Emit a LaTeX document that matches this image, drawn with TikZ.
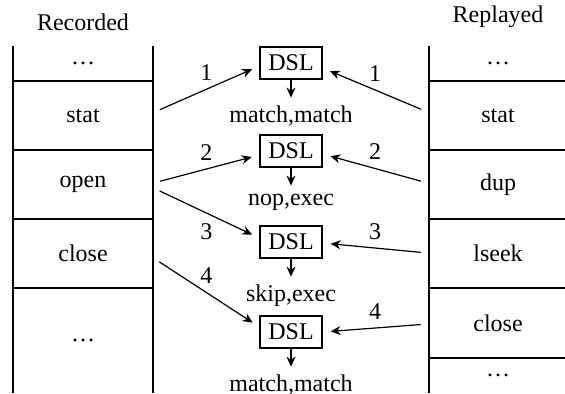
\documentclass[tikz,border=0pt,12pt]{standalone}
\usepackage{fontspec}
\setmainfont{Liberation Serif}
\usetikzlibrary{positioning,arrows.meta}

\tikzset{
    cell/.style={minimum width=70pt, minimum height=34.5pt, inner sep=0pt},
    dslbox/.style={draw, semithick, minimum width=31pt, minimum height=16pt, inner sep=2pt},
    flow/.style={-{Stealth[length=5pt,width=4.5pt]}, semithick, shorten <=3.5pt, shorten >=4pt},
    down/.style={-{Stealth[length=5pt,width=4.5pt]}, semithick},
}

\begin{document}
\begin{tikzpicture}[x=0.5pt,y=-0.5pt]
    \useasboundingbox (0,0) rectangle (565,393);
    % titles
    \node (rec) at (83,22) {Recorded};
    \node (rep) at (498,17) {Replayed};
    % recorded trace
        \draw [semithick] (13,46) -- (13,393);
        \draw [semithick] (153,46) -- (153,393);
        \foreach \y in {81,150,219,288}
            \draw [semithick] (13,\y) -- (153,\y);
        \node (r0) at (83,63) {\dots};
        \node [cell] (rstat) at (83,115.5) {stat};
        \node [cell] (ropen) at (83,184.5) {open};
        \node [cell] (rclose) at (83,253.5) {close};
        \node (r4) at (83,340) {\dots};
    % replayed trace
        \draw [semithick] (429,46) -- (429,393);
        \foreach \y in {81,150,219,288,358}
            \draw [semithick] (429,\y) -- (565,\y);
        \node (p0) at (498,63) {\dots};
        \node [cell] (pstat) at (498,115.5) {stat};
        \node [cell] (pdup) at (498,184.5) {dup};
        \node [cell] (plseek) at (498,253.5) {lseek};
        \node [cell] (pclose) at (498,323) {close};
        \node (p5) at (498,375) {\dots};
    % DSL checks
        \node [dslbox] (dsl1) at (291,63) {DSL};
        \node [dslbox] (dsl2) at (291,151) {DSL};
        \node [dslbox] (dsl3) at (291,242) {DSL};
        \node [dslbox] (dsl4) at (291,332) {DSL};
        \node [below=9pt of dsl1] (res1) {match,match};
        \node [below=9pt of dsl2] (res2) {nop,exec};
        \node [below=9pt of dsl3] (res3) {skip,exec};
        \node [below=9pt of dsl4] (res4) {match,match};
        \foreach \i in {1,...,4}
            \draw [down] (dsl\i.south) -- (res\i.north);
    % recorded side
        \draw [flow] ([yshift=1.5pt]rstat.east) -- node [above] {1} ([yshift=-1.5pt]dsl1.west);
        \draw [flow] ([yshift=0.75pt]ropen.east) -- node [above] {2} ([yshift=-2pt]dsl2.west);
        \draw [flow] ([yshift=-1.75pt]ropen.east) -- node [below, yshift=-1pt] {3} ([yshift=2pt]dsl3.west);
        \draw [flow] ([yshift=-2.25pt]rclose.east) -- node [above] {4} ([yshift=2.5pt]dsl4.west);
    % replayed side
        \draw [flow] ([yshift=1.75pt]pstat.west) -- node [above] {1} ([yshift=-2.5pt]dsl1.east);
        \draw [flow] ([yshift=0.75pt]pdup.west) -- node [above] {2} ([yshift=-1.5pt]dsl2.east);
        \draw [flow] ([yshift=0.25pt]plseek.west) -- node [above] {3} ([yshift=-0.5pt]dsl3.east);
        \draw [flow] ([yshift=-0.5pt]pclose.west) -- node [above] {4} (dsl4.east);
\end{tikzpicture}
\end{document}
